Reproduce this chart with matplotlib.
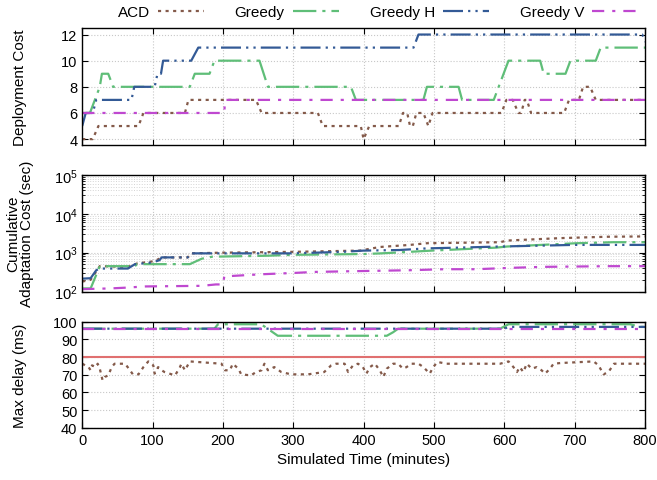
import matplotlib
matplotlib.use("Agg")
import matplotlib.pyplot as plt
from matplotlib.lines import Line2D
from matplotlib.ticker import LogLocator, FixedLocator, NullFormatter, LogFormatterSciNotation
import numpy as np

plt.rcParams['font.family'] = ['Liberation Sans', 'DejaVu Sans']
plt.rcParams['mathtext.fontset'] = 'custom'
plt.rcParams['mathtext.rm'] = 'Liberation Sans'
plt.rcParams['mathtext.it'] = 'Liberation Sans:italic'
plt.rcParams['mathtext.bf'] = 'Liberation Sans:bold'

# ---------------- data ----------------
series_names = ["ACD", "Greedy", "Greedy H", "Greedy V"]

# Deployment cost
acd_dep_t = [0, 15, 23, 80, 87, 146, 151, 247, 255, 335, 342, 396, 400, 408, 450, 456, 462, 466, 470,
             475, 485, 492, 498, 596, 603, 612, 620, 624, 629, 632, 638, 685, 692, 706, 712, 722, 730, 800]
acd_dep_v = [4, 4, 5, 5, 6, 6, 7, 7, 6, 6, 5, 5, 4, 5, 5, 6, 6, 5, 5,
             6, 6, 5, 6, 6, 7, 7, 6, 6, 7, 7, 6, 6, 7, 7, 8, 8, 7, 7]
gr_dep_t = [0, 11, 25, 28, 37, 44, 153, 160, 181, 188, 252, 264, 382, 389, 485, 490, 535, 540,
            585, 606, 651, 656, 687, 694, 730, 737, 800]
gr_dep_v = [6, 6, 8, 9, 9, 8, 8, 9, 9, 10, 10, 8, 8, 7, 7, 8, 8, 7,
            7, 10, 10, 9, 9, 10, 10, 11, 11]
gh_dep_t = [0, 5, 15, 20, 70, 74, 103, 107, 112, 115, 155, 165, 471, 478, 796, 805]
gh_dep_v = [5, 6, 6, 7, 7, 8, 8, 9, 9, 10, 10, 11, 11, 12, 12, 11]
gv_dep_t = [0, 202, 203, 800]
gv_dep_v = [6, 6, 7, 7]

# Cumulative adaptation cost (sec)
acd_cum_t = [0, 12, 25, 65, 78, 103, 113, 150, 155, 200, 300, 395, 423, 466, 490, 594, 604, 680, 746, 800]
acd_cum_v = [180, 200, 450, 430, 527, 606, 755, 755, 960, 1000, 1050, 1130, 1400, 1585, 1750, 1860, 2050,
             2370, 2570, 2620]
gr_cum_t = [0, 12, 25, 75, 78, 153, 170, 185, 264, 300, 400, 425, 444, 497, 589, 604, 703, 755, 800]
gr_cum_v = [120, 120, 449, 449, 506, 506, 700, 787, 835, 880, 922, 960, 1000, 1130, 1350, 1440, 1750, 1860,
            1860]
gh_cum_t = [0, 12, 20, 25, 65, 75, 100, 110, 113, 150, 155, 300, 370, 400, 451, 490, 537, 594, 699, 800]
gh_cum_v = [214, 220, 353, 390, 390, 506, 560, 643, 755, 755, 960, 960, 1050, 1130, 1170, 1290, 1350, 1440,
            1585, 1585]
gv_cum_t = [0, 40, 60, 90, 170, 190, 200, 202, 255, 302, 330, 380, 465, 515, 560, 610, 655, 750, 800]
gv_cum_v = [115, 120, 125, 135, 140, 152, 152, 245, 278, 301, 319, 332, 353, 375, 375, 407, 431, 449, 449]

# Max delay (ms)
acd_del_t = [0, 9, 12, 14, 19, 22, 25, 29, 32, 37, 42, 46, 61, 68, 72, 80, 87, 94, 101, 103, 108, 113,
             117, 132, 139, 141, 146, 153, 198, 203, 210, 214, 222, 226, 240, 247, 255, 259, 264, 273,
             283, 297, 321, 344, 354, 361, 373, 378, 385, 392, 399, 404, 409, 416, 423, 428, 433, 442,
             449, 456, 461, 468, 478, 485, 494, 499, 505, 518, 594, 606, 613, 618, 622, 627, 632, 639,
             646, 653, 658, 665, 670, 680, 727, 734, 741, 748, 756, 800]
acd_del_v = [76.2, 74.3, 72.5, 75.3, 74.3, 76.2, 73.4, 66.8, 68.7, 69.6, 74.3, 76.2, 76.2, 72.5, 70.2,
             70.2, 74.3, 77.5, 75.3, 70.6, 74.3, 72.5, 71.5, 69.6, 74.3, 76.2, 72.5, 77.5, 76.2, 72.5,
             72.5, 76.2, 73.4, 70.2, 69.6, 71.5, 72.5, 76.2, 72.5, 74.3, 71.5, 70.2, 70.2, 71.5, 75.3,
             76.2, 76.2, 71.5, 75.3, 76.2, 74.3, 70.6, 74.3, 76.2, 72.5, 68.7, 73.4, 76.2, 76.2, 73.4,
             74.3, 76.2, 76.2, 74.3, 70.6, 74.3, 77.2, 76.2, 76.2, 77.5, 74.3, 71.5, 74.3, 71.5, 76.2,
             73.4, 74.3, 72.5, 70.6, 73.4, 76.2, 76.6, 77.5, 75.3, 70.2, 71.5, 76.2, 76.2]
gr_del_t = [0, 188, 193, 254, 260, 278, 433, 442, 449, 594, 606, 779, 793, 800]
gr_del_v = [96, 96, 98.5, 98.5, 97, 92, 92, 94, 96, 96, 98.5, 98.5, 97, 97]
gh_del_t = [0, 600, 606, 800]
gh_del_v = [96, 96, 97, 97]
gv_del_t = [0, 800]
gv_del_v = [96, 96]
delay_limit = 80

x_ticks = [0, 100, 200, 300, 400, 500, 600, 700, 800]
cum_ticks = [1e2, 1e3, 1e4, 1e5]

# ---------------- styles ----------------
colors = {"ACD": "#845a4a", "Greedy": "#5fbe78", "Greedy H": "#335a96", "Greedy V": "#bf48d0"}
dashes = {"ACD": (1.4, 2.0), "Greedy": (10.5, 2.7, 1.4, 2.7),
          "Greedy H": (9, 2.3, 1, 2.3, 1, 2.3), "Greedy V": (5.5, 3.6, 1.4, 3.6)}
LW = 1.6

W, H = 657, 481
fig = plt.figure(figsize=(W / 100, H / 100), dpi=100)
left = 82.2 / W
width = (645 - 82.2) / W
ax1 = fig.add_axes([left, 1 - 146 / H, width, 117 / H])
ax2 = fig.add_axes([left, 1 - 292.5 / H, width, 116.5 / H])
ax3 = fig.add_axes([left, 1 - 428.8 / H, width, 106.2 / H])


def draw(ax, data):
    for name, (t, v) in zip(series_names, data):
        ax.plot(t, v, color=colors[name], lw=LW, dashes=dashes[name], label=name)


draw(ax1, [(acd_dep_t, acd_dep_v), (gr_dep_t, gr_dep_v), (gh_dep_t, gh_dep_v), (gv_dep_t, gv_dep_v)])
draw(ax2, [(acd_cum_t, acd_cum_v), (gr_cum_t, gr_cum_v), (gh_cum_t, gh_cum_v), (gv_cum_t, gv_cum_v)])
ax3.axhline(delay_limit, color="#e07070", lw=1.5, zorder=1)
draw(ax3, [(acd_del_t, acd_del_v), (gr_del_t, gr_del_v), (gh_del_t, gh_del_v), (gv_del_t, gv_del_v)])

ax1.set_ylim(3.55, 12.5)
ax1.set_yticks([4, 6, 8, 10, 12])
ax2.set_yscale('log')
ax2.set_ylim(100, 1e5)
ax2.yaxis.set_major_locator(FixedLocator(cum_ticks))
ax2.yaxis.set_major_formatter(LogFormatterSciNotation())
ax2.yaxis.set_minor_locator(LogLocator(base=10, subs=np.arange(2, 10), numticks=20))
ax2.yaxis.set_minor_formatter(NullFormatter())
ax3.set_ylim(40, 100)
ax3.set_yticks([40, 50, 60, 70, 80, 90, 100])

for ax in (ax1, ax2, ax3):
    ax.set_xlim(0, 800)
    ax.set_xticks(x_ticks)
    ax.tick_params(direction='in', top=True, right=True, length=4, width=0.8, labelsize=10.5)
    ax.tick_params(which='minor', direction='in', top=True, right=True, length=2, width=0.6)
    ax.grid(True, which='major', color='#c8c8c8', ls=':', lw=0.8)
    for s in ax.spines.values():
        s.set_linewidth(1.0)
    ax.set_axisbelow(True)
ax2.grid(True, which='minor', axis='y', color='#d4d4d4', ls=':', lw=0.7)
ax1.tick_params(labelbottom=False)
ax2.tick_params(labelbottom=False)
ax2.tick_params(axis='x', which='minor', top=False, bottom=False)

ax1.set_ylabel("Deployment Cost", fontsize=11)
ax2.set_ylabel("Cumulative\nAdaptation Cost (sec)", fontsize=11, linespacing=1.0)
ax3.set_ylabel("Max delay (ms)", fontsize=11)
ax3.set_xlabel("Simulated Time (minutes)", fontsize=11)
for ax in (ax1, ax2, ax3):
    ax.yaxis.label.set_verticalalignment('center')
    ax.yaxis.set_label_coords(-0.11, 0.5)

handles = [Line2D([], [], color=colors[n], lw=LW, dashes=dashes[n]) for n in series_names]
fig.legend(handles, series_names, loc='center', bbox_to_anchor=(378 / W, 1 - 13 / H), ncol=4,
           frameon=False, markerfirst=False, fontsize=11, handlelength=3.0, handletextpad=0.55,
           columnspacing=2.0, borderpad=0)

fig.savefig("out.png", dpi=100)
